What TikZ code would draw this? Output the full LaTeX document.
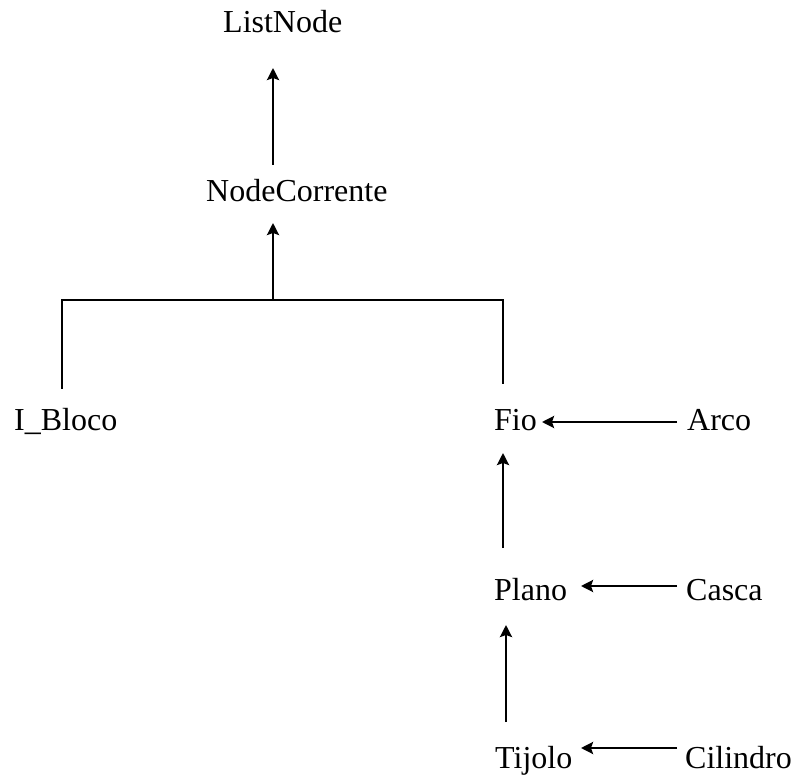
\documentclass[tikz,border=0pt]{standalone}
\usepackage{fontspec}
\setmainfont{Liberation Serif}
\usetikzlibrary{arrows.meta}
\begin{document}
\begin{tikzpicture}[x=1pt,y=-1pt,
  cls/.style={anchor=base west, inner sep=0pt, font=\fontsize{32}{38}\selectfont},
  link/.style={line width=2.5pt, line cap=rect},
  inherit/.style={line width=2.8pt, -{Stealth[length=12pt,width=12pt,inset=2pt]}}]
\useasboundingbox (0,0) rectangle (796,778);

% class names
\node[cls] (lst)   at (223,33)  {ListNode};
\node[cls] (corr)  at (206,202) {NodeCorrente};
\node[cls] (ib)    at (14,430)  {I\_Bloco};
\node[cls] (fio)   at (494,430) {Fio};
\node[cls] (arco)  at (687,430) {Arco};
\node[cls] (plano) at (494,600) {Plano};
\node[cls] (casca) at (686,600) {Casca};
\node[cls] (tij)   at (495,768) {Tijolo};
\node[cls] (cil)   at (685,768) {Cilindro};

% junction of the two subclasses of NodeCorrente
\coordinate (split) at (273,300);

% NodeCorrente derives from ListNode
\draw[inherit] ([shift={(67pt,37pt)}]corr.base west) -- ([shift={(50pt,-35pt)}]lst.base west);

% I_Bloco and Fio derive from NodeCorrente
\draw[link] ([shift={(48pt,42pt)}]ib.base west) |- (split) -| ([shift={(9pt,47pt)}]fio.base west);
\draw[inherit] (split) -- ([shift={(67pt,-21pt)}]corr.base west);

% Fio hierarchy
\draw[inherit] ([shift={(-10pt,8pt)}]arco.base west) -- ([shift={(48pt,8pt)}]fio.base west);
\draw[inherit] ([shift={(9pt,52pt)}]plano.base west) -- ([shift={(9pt,-23pt)}]fio.base west);
\draw[inherit] ([shift={(-9pt,14pt)}]casca.base west) -- ([shift={(87pt,14pt)}]plano.base west);
\draw[inherit] ([shift={(11pt,46pt)}]tij.base west) -- ([shift={(12pt,-25pt)}]plano.base west);
\draw[inherit] ([shift={(-8pt,20pt)}]cil.base west) -- ([shift={(86pt,20pt)}]tij.base west);
\end{tikzpicture}
\end{document}
